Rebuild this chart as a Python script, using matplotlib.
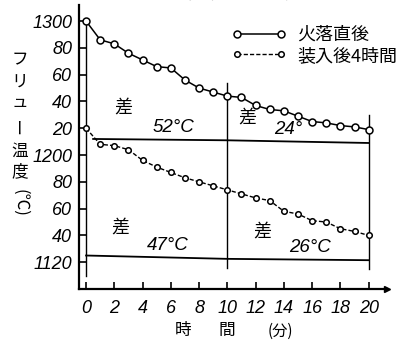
import numpy as np
import matplotlib
matplotlib.use("Agg")
from matplotlib import pyplot as plt

plt.rcParams['font.family'] = ['Noto Sans CJK JP', 'DejaVu Sans']

# time (min)
minutes = list(range(21))
# flue temperature just after fire-out
temp_after_fire = [1300, 1286, 1283, 1276, 1271, 1266, 1265, 1256, 1250, 1247, 1244,
                   1243, 1237, 1234, 1233, 1229, 1225, 1224, 1222, 1221, 1219]
# flue temperature 4 hours after charging
temp_after_charge = [1220, 1208, 1207, 1204, 1196, 1191, 1187, 1183, 1180, 1177, 1174,
                     1171, 1168, 1166, 1158, 1156, 1151, 1150, 1145, 1143, 1140]

y_ticks = [1300, 1280, 1260, 1240, 1220, 1200, 1180, 1160, 1140, 1120]
y_tick_labels = ['1300', '80', '60', '40', '20', '1200', '80', '60', '40', '1120']
x_ticks = list(range(0, 21, 2))

num_font = dict(family='Liberation Sans', style='italic')

W, H = 417, 342
fig = plt.figure(figsize=(W / 100, H / 100), dpi=100)
ax = fig.add_axes([79 / W, (H - 289) / H, (387 - 79) / W, (289 - 5) / H])

ax.plot(minutes, temp_after_fire, '-o', color='black', lw=1.1, ms=5,
        mfc='white', mew=1.1, label='火落直後', zorder=3)
ax.plot(minutes, temp_after_charge, 'o', ls=(0, (3, 1.5)), color='black', lw=1.0, ms=4,
        mfc='white', mew=1.1, label='装入後4時間', zorder=3)

# reference lines
ax.plot([0, 0], [1300, 1110], color='black', lw=1.0)
ax.plot([10, 10], [1254, 1116], color='black', lw=1.0)
ax.plot([20, 20], [1230, 1115], color='black', lw=1.0)
ax.plot([0.5, 10, 20], [1212, 1211, 1209], color='black', lw=1.3)
ax.plot([0, 10, 20], [1125, 1122.5, 1121.5], color='black', lw=1.3)

ax.set_xlim(-0.5, 21.3)
ax.set_ylim(1100, 1312)
ax.set_xticks(x_ticks)
ax.set_xticklabels([str(t) for t in x_ticks], fontsize=13, **num_font)
ax.set_yticks(y_ticks)
ax.set_yticklabels(y_tick_labels, fontsize=13, **num_font)
ax.tick_params(direction='in', length=5, width=1.2, pad=5)
ax.tick_params(axis='x', pad=8)
for s in ['top', 'right']:
    ax.spines[s].set_visible(False)
for s in ['left', 'bottom']:
    ax.spines[s].set_linewidth(1.6)
ax.plot(1, 0, '>k', ms=4, transform=ax.transAxes, clip_on=False)

# annotations
def ptext(x, y, s, **kw):
    fig.text(x / W, 1 - y / H, s, ha='center', va='center', **kw)

ptext(123, 108, '差', fontsize=13)
ptext(173, 128, '52°C', fontsize=13.5, **num_font)
ptext(247, 118, '差', fontsize=13)
ptext(288, 129, '24°', fontsize=13.5, **num_font)
ptext(120, 228, '差', fontsize=13)
ptext(168, 245, '47°C', fontsize=13.5, **num_font)
ptext(262, 232, '差', fontsize=13)
ptext(310, 247, '26°C', fontsize=13.5, **num_font)

# y label, vertical writing
for ch, yy in zip(['フ', 'リ', 'ュ'], [60, 82, 102]):
    ptext(20, yy, ch, fontsize=12)
ptext(20, 126, 'ー', fontsize=12, rotation=90)
ptext(20, 151, '温', fontsize=12)
ptext(20, 172, '度', fontsize=12)
ptext(20, 203, '(℃)', fontsize=12, rotation=-90)

# x label
ptext(183, 330, '時', fontsize=12)
ptext(227, 330, '間', fontsize=12)
ptext(280, 331, '(分)', fontsize=11)

# title (cut off at the top edge)
fig.text(252 / W, 1 - 6 / H, '温度変化 の 分 布図', ha='center', va='bottom', fontsize=20)

ax.legend(loc='upper left', bbox_to_anchor=(232 / W, 1 - 26 / H),
          bbox_transform=fig.transFigure, frameon=False, handlelength=3.0,
          numpoints=2, fontsize=13, labelspacing=0.15, handletextpad=0.6,
          borderpad=0, borderaxespad=0)

fig.savefig('out.png', dpi=100)
